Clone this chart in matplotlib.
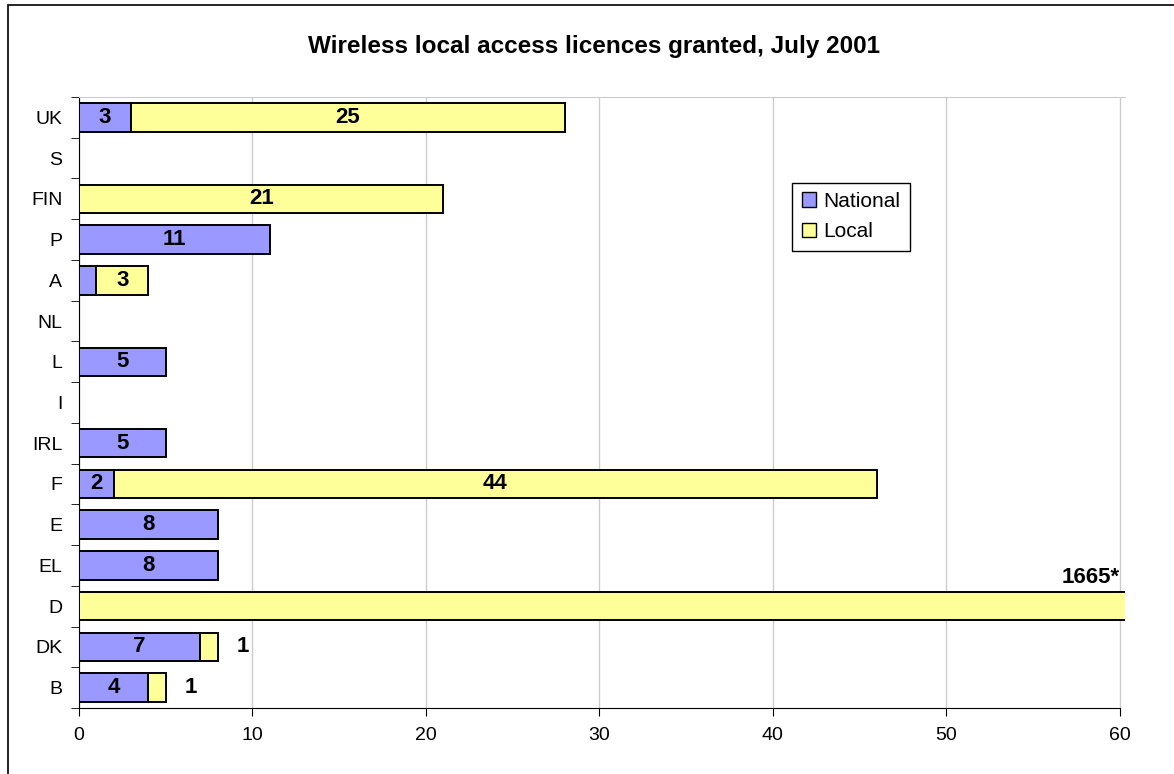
import matplotlib.pyplot as plt
import matplotlib.patches as mpatches
import numpy as np

plt.rcParams['font.family'] = ['Liberation Sans', 'DejaVu Sans']

# categories listed bottom to top
countries = ["B", "DK", "D", "EL", "E", "F", "IRL", "I", "L", "NL", "A", "P", "FIN", "S", "UK"]
national = [4, 7, 0, 8, 8, 2, 5, 0, 5, 0, 1, 11, 0, 0, 3]
local = [1, 1, 1665, 0, 0, 44, 0, 0, 0, 0, 3, 0, 21, 0, 25]

NAT_COLOR = "#9999FF"
LOC_COLOR = "#FFFF99"

fig = plt.figure(figsize=(11.74, 7.74), dpi=100)
ax = fig.add_axes([79 / 1174, 1 - 708 / 774, (1125 - 79) / 1174, (708 - 97) / 774])

y = np.arange(len(countries))
nat = np.array(national)
loc = np.array(local)
ax.barh(y, nat, height=0.7, color=NAT_COLOR, edgecolor="black", linewidth=1.4, zorder=3)
ax.barh(y, loc, left=nat, height=0.7, color=LOC_COLOR, edgecolor="black", linewidth=1.4, zorder=3)

xmax = 60.3
ax.set_xlim(0, xmax)
ax.set_ylim(-0.5, len(countries) - 0.5)

lab = dict(ha="center", va="center", fontsize=16, fontweight="bold", zorder=4)
for i in range(len(countries)):
    if nat[i] >= 2:
        ax.text(nat[i] / 2, y[i], str(nat[i]), **lab)
    if loc[i] == 0:
        continue
    end = nat[i] + loc[i]
    if end > xmax:
        # clipped bar: value goes above its right end
        ax.text(xmax - 0.3, y[i] + 0.45, f"{loc[i]}*", ha="right", va="bottom",
                fontsize=16, fontweight="bold")
    elif loc[i] >= 2:
        ax.text(nat[i] + loc[i] / 2, y[i], str(loc[i]), **lab)
    else:
        ax.text(end + 1.1, y[i], str(loc[i]), ha="left", va="center",
                fontsize=16, fontweight="bold")

ax.set_xticks(range(0, 61, 10))
ax.tick_params(axis="x", labelsize=14, length=6, pad=8)
ax.set_yticks(y)
ax.set_yticklabels(countries, fontsize=14)
ax.tick_params(axis="y", which="major", length=0, pad=12)
ax.set_yticks(np.arange(-0.5, len(countries), 1), minor=True)
ax.tick_params(axis="y", which="minor", length=6)

ax.grid(axis="x", color="#CCCCCC", linewidth=1, zorder=0)
ax.spines["right"].set_visible(False)
ax.spines["top"].set_color("#CCCCCC")
ax.spines["bottom"].set_bounds(0, 60)

handles = [mpatches.Patch(facecolor=NAT_COLOR, edgecolor="black", label="National"),
           mpatches.Patch(facecolor=LOC_COLOR, edgecolor="black", label="Local")]
leg = ax.legend(handles=handles, loc="upper left", bbox_to_anchor=(0.682, 0.86),
                fontsize=15, fancybox=False, edgecolor="black", framealpha=1,
                handlelength=0.7, handleheight=0.7, handletextpad=0.35, borderpad=0.45,
                labelspacing=0.55, borderaxespad=0)
leg.get_frame().set_linewidth(1)

fig.text(594 / 1174, 1 - 47 / 774, "Wireless local access licences granted, July 2001",
         ha="center", va="center", fontsize=17.5, fontweight="bold")

fig.patches.append(mpatches.Rectangle((8 / 1174, -0.02), 1.05, 1 - 5 / 774 + 0.02,
                                      transform=fig.transFigure, fill=False,
                                      edgecolor="black", linewidth=1.2))

fig.savefig("out.png", dpi=100)
